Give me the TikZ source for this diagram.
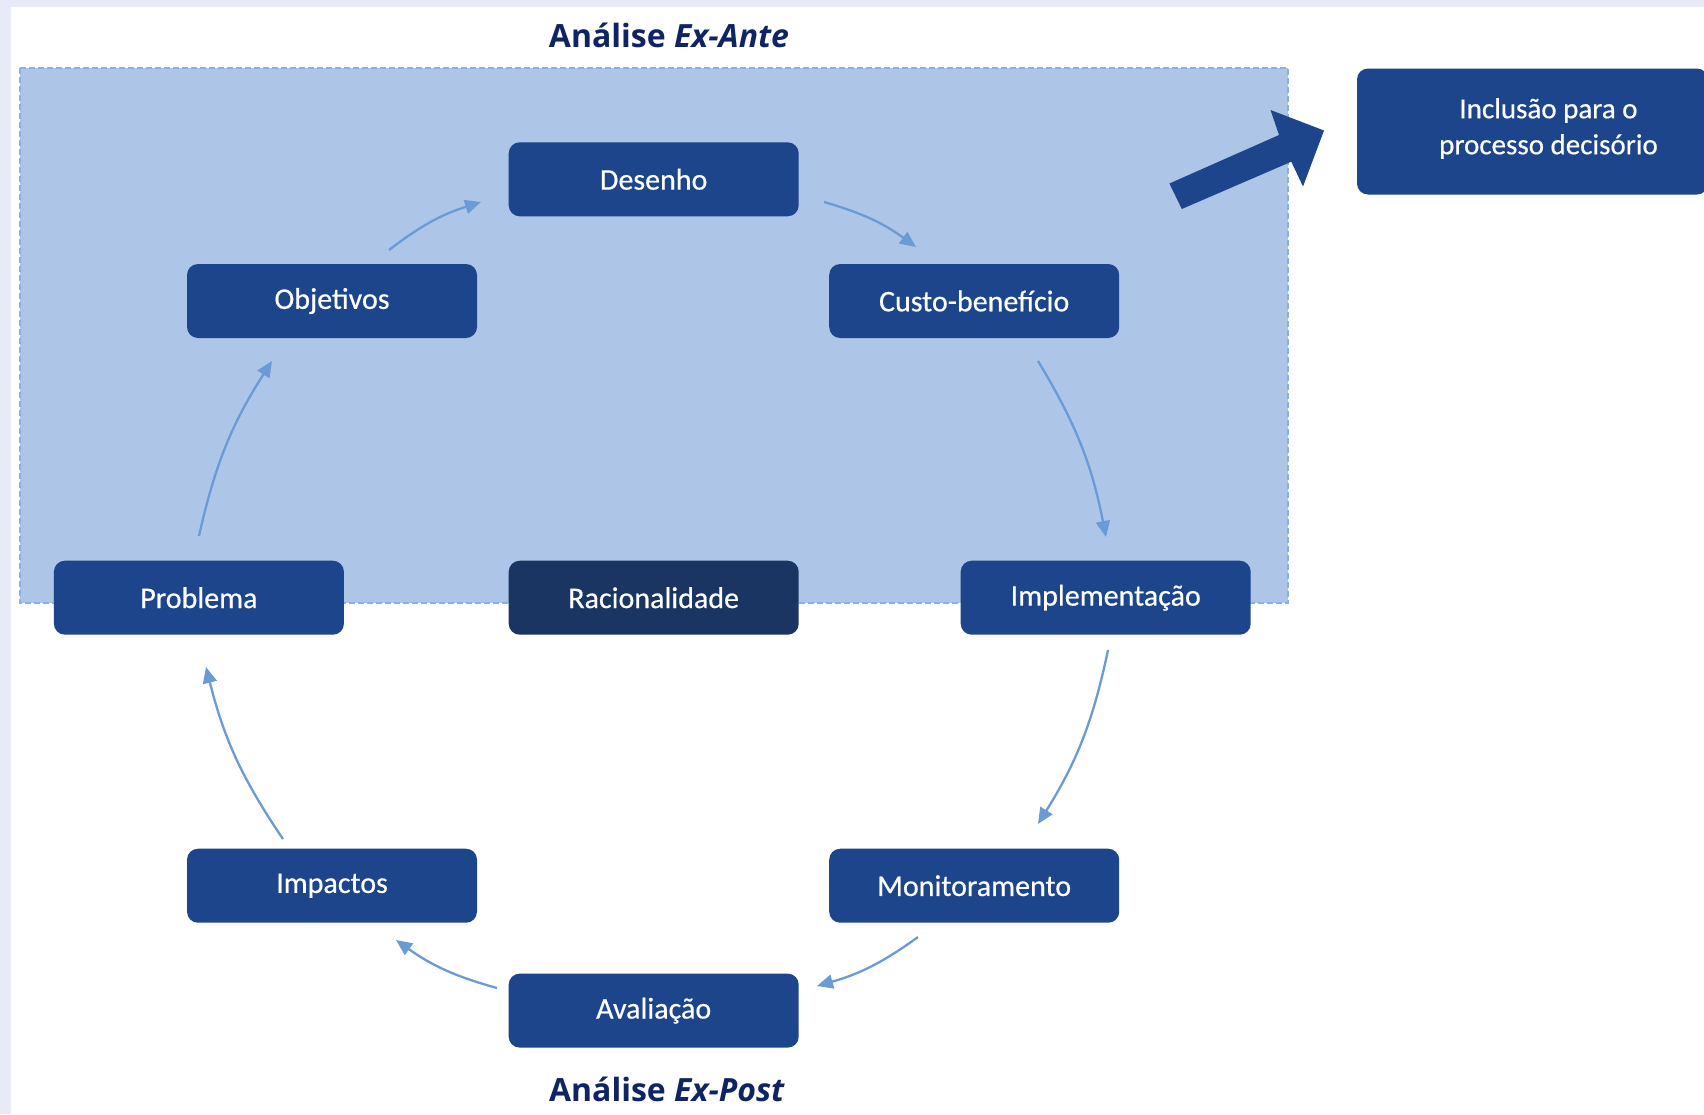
\documentclass[tikz,border=0pt]{standalone}
\usepackage{fontspec}
\setmainfont{Carlito}
\newfontfamily\stagefont{Carlito}[FakeBold=0.5]
\newfontfamily\titlefont{Open Sans}
\usetikzlibrary{arrows.meta}
\definecolor{framecol}{HTML}{E8EAF8}
\definecolor{zone}{HTML}{ADC5E7}
\definecolor{zoneline}{HTML}{8EB0E0}
\definecolor{boxblue}{HTML}{1C458C}
\definecolor{boxdark}{HTML}{1B3562}
\definecolor{flow}{HTML}{6A9BD6}
\definecolor{titleblue}{HTML}{0F2463}
\begin{document}
\begin{tikzpicture}[x=1pt,y=-1pt,
  stage/.style={fill=boxblue, rounded corners=11pt, minimum width=290pt,
    minimum height=74pt, inner sep=0pt, text=white,
    font=\stagefont\fontsize{30}{36}\selectfont},
  flowarrow/.style={draw=flow, line width=2.3pt,
    -{Triangle[length=16pt,width=14pt]}, bend left=10},
  heading/.style={text=titleblue, font=\titlefont\bfseries\fontsize{32}{38}\selectfont}]
\useasboundingbox (0,0) rectangle (1704,1114);
\fill[white] (0,0) rectangle (1704,1114);
% page frame strips
\fill[framecol] (0,0) rectangle (1704,7);
\fill[framecol] (0,0) rectangle (11,1114);

% ex-ante zone
\fill[zone] (20,68) rectangle (1288,603);
\draw[zoneline, line width=1.2pt, dash pattern=on 6pt off 3pt] (20,68) rectangle (1288,603);

\node[heading] (exante) at (669,35) {Análise \textit{Ex-Ante}};
\node[heading] (expost) at (667,1089) {Análise \textit{Ex-Post}};

% cycle stages
\node[stage] (desenho) at (653.7,179.3) {Desenho};
\node[stage] (objetivos) at (332.0,301.0) {Objetivos};
\node[stage] (custo) at (974.2,301.0) {Custo-benefício};
\node[stage] (problema) at (198.9,597.7) {Problema};
\node[stage, fill=boxdark] (racional) at (653.7,597.7) {Racionalidade};
\node[stage] (implem) at (1105.7,597.7) {Implementação};
\node[stage] (impactos) at (332.0,885.7) {Impactos};
\node[stage] (monitor) at (974.2,885.7) {Monitoramento};
\node[stage] (avaliacao) at (653.7,1010.6) {Avaliação};

% decision box
\node[stage, minimum width=351pt, minimum height=126pt,
  label={[text=white, align=center, xshift=16pt, yshift=3pt,
    font=\stagefont\fontsize{29}{36}\selectfont]center:Inclusão para o\\processo decisório}]
  (inclusao) at (1532.5,131.5) {};

% big arrow towards the decision box
\fill[boxblue] (1169.4,183.5) -- (1279,135) -- (1270.5,110) -- (1324,130.5)
  -- (1303,186.5) -- (1291.3,161.7) -- (1181.8,209) -- cycle;

% cycle connectors
\coordinate (a1s) at (389,250);  \coordinate (a1e) at (481,202);
\coordinate (a2s) at (824,202);  \coordinate (a2e) at (916,247);
\coordinate (a3s) at (1038,361); \coordinate (a3e) at (1106,537);
\coordinate (a4s) at (1108,650); \coordinate (a4e) at (1038,824);
\coordinate (a5s) at (918,937);  \coordinate (a5e) at (817,986);
\coordinate (a6s) at (497,988);  \coordinate (a6e) at (396,940);
\coordinate (a7s) at (283,839);  \coordinate (a7e) at (206,667);
\coordinate (a8s) at (199,536);  \coordinate (a8e) at (272,361);
\draw[flowarrow] (a1s) to (a1e);
\draw[flowarrow] (a2s) to (a2e);
\draw[flowarrow] (a3s) to (a3e);
\draw[flowarrow] (a4s) to (a4e);
\draw[flowarrow] (a5s) to (a5e);
\draw[flowarrow] (a6s) to (a6e);
\draw[flowarrow] (a7s) to (a7e);
\draw[flowarrow] (a8s) to (a8e);
\end{tikzpicture}
\end{document}
